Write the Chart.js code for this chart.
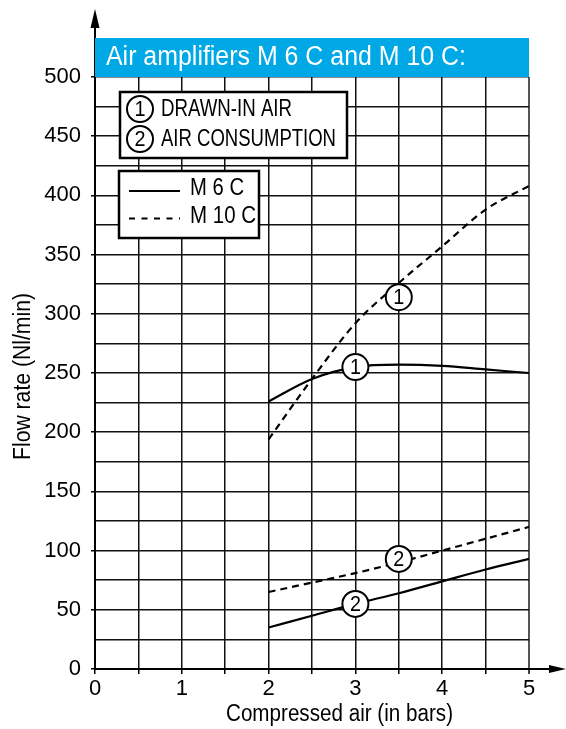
<!DOCTYPE html>
<html>
<head>
<meta charset="utf-8">
<script src="https://cdn.jsdelivr.net/npm/chart.js@4.4.1/dist/chart.umd.min.js"></script>
<style>
html,body{margin:0;padding:0;background:#fff;}
canvas{display:block;}
</style>
</head>
<body>
<canvas id="c" width="566" height="729" style="width:566px;height:729px"></canvas>
<script>
// ---------- data ----------
const pressureBar = [2, 2.5, 3, 3.5, 4, 4.5, 5];
const m6DrawnIn = [226, 245, 255, 257, 256, 253, 250];
const m10DrawnIn = [194, 245, 292, 326, 357, 388, 408];
const m6Consumption = [35, 45, 55, 64, 74, 84, 93];
const m10Consumption = [65, 73, 81, 90, 100, 110, 120];
const markerX = [3, 3.5, 3, 3.5];
const markerY = [255, 314, 55, 93];
const markerText = ['1', '1', '2', '2'];
const xTickLabels = ['0', '1', '2', '3', '4', '5'];
const yTickLabels = ['0', '50', '100', '150', '200', '250', '300', '350', '400', '450', '500'];
const chartTitle = 'Air amplifiers M 6 C and M 10 C:';
const xTitle = 'Compressed air (in bars)';
const yTitle = 'Flow rate (Nl/min)';
const curveKeys = ['DRAWN-IN AIR', 'AIR CONSUMPTION'];
const curveKeyNums = ['1', '2'];
const modelNames = ['M 6 C', 'M 10 C'];

const FONT = "'Liberation Sans Narrow','Arial Narrow','Liberation Sans',Arial,sans-serif";
const FONT2 = "'Liberation Sans',Arial,sans-serif";

const pts = (xs, ys) => xs.map((x, i) => ({ x: x, y: ys[i] }));
const DASH = [7, 5];

function lineDs(label, ys, dashed) {
  return {
    label: label,
    data: pts(pressureBar, ys),
    borderColor: '#000',
    borderWidth: 2.2,
    borderDash: dashed ? DASH : [],
    pointRadius: 0,
    fill: false,
    cubicInterpolationMode: 'monotone',
    order: 1
  };
}

// draw text horizontally scaled to a target width
function fitText(ctx, text, x, y, size, targetW, align, color, rot) {
  ctx.save();
  ctx.font = size + 'px ' + FONT2;
  const w = ctx.measureText(text).width;
  const sx = targetW / w;
  ctx.translate(x, y);
  if (rot) ctx.rotate(rot);
  ctx.scale(sx, 1);
  ctx.fillStyle = color;
  ctx.textBaseline = 'middle';
  ctx.textAlign = align;
  ctx.fillText(text, 0, 0);
  ctx.restore();
}

const deco = {
  id: 'deco',
  afterDatasetsDraw(chart) {
    const ctx = chart.ctx;
    const meta = chart.getDatasetMeta(0);
    ctx.save();
    meta.data.forEach((el, i) => {
      fitText(ctx, markerText[i], el.x, el.y + 1, 22, 11, 'center', '#000');
    });
    ctx.restore();
  },
  afterDraw(chart) {
    const ctx = chart.ctx;
    const a = chart.chartArea;
    ctx.save();
    // axis extensions + arrows
    ctx.strokeStyle = '#000';
    ctx.lineWidth = 2;
    ctx.beginPath();
    ctx.moveTo(a.left, a.top);
    ctx.lineTo(a.left, 24);
    ctx.stroke();
    ctx.fillStyle = '#000';
    ctx.beginPath();
    ctx.moveTo(a.left, 9);
    ctx.lineTo(a.left - 4.5, 28);
    ctx.lineTo(a.left + 4.5, 28);
    ctx.closePath();
    ctx.fill();
    ctx.beginPath();
    ctx.moveTo(a.right, a.bottom);
    ctx.lineTo(552, a.bottom);
    ctx.stroke();
    ctx.beginPath();
    ctx.moveTo(566, a.bottom);
    ctx.lineTo(549, a.bottom - 4);
    ctx.lineTo(549, a.bottom + 4);
    ctx.closePath();
    ctx.fill();

    // banner
    ctx.fillStyle = '#00A8E6';
    ctx.fillRect(a.left, 38, a.right - a.left, a.top - 38);
    fitText(ctx, chartTitle, 106, 58, 27, 360, 'left', '#fff');

    // legend box 1 (curve numbers)
    ctx.fillStyle = '#fff';
    ctx.fillRect(120, 92, 227, 66);
    ctx.strokeStyle = '#000';
    ctx.lineWidth = 2.5;
    ctx.strokeRect(120, 92, 227, 66);
    const ky = [109, 139];
    const kw = [131, 175];
    for (let i = 0; i < 2; i++) {
      ctx.beginPath();
      ctx.arc(140, ky[i], 13, 0, Math.PI * 2);
      ctx.fillStyle = '#fff';
      ctx.fill();
      ctx.lineWidth = 2;
      ctx.stroke();
      fitText(ctx, curveKeyNums[i], 140, ky[i] + 1, 22, 11, 'center', '#000');
      fitText(ctx, curveKeys[i], 161, ky[i] + 1, 23, kw[i], 'left', '#000');
    }

    // legend box 2 (models)
    ctx.fillStyle = '#fff';
    ctx.fillRect(119, 171, 140, 67);
    ctx.lineWidth = 2.5;
    ctx.strokeRect(119, 171, 140, 67);
    ctx.lineWidth = 2.2;
    ctx.beginPath();
    ctx.moveTo(129, 191);
    ctx.lineTo(180, 191);
    ctx.stroke();
    ctx.setLineDash([6, 6.5]);
    ctx.beginPath();
    ctx.moveTo(129, 218.5);
    ctx.lineTo(180, 218.5);
    ctx.stroke();
    ctx.setLineDash([]);
    fitText(ctx, modelNames[0], 190, 189, 23, 54, 'left', '#000');
    fitText(ctx, modelNames[1], 190, 217, 23, 66, 'left', '#000');

    // axis titles
    fitText(ctx, xTitle, 339.5, 715, 23, 227, 'center', '#000');
    fitText(ctx, yTitle, 24, 376.5, 23, 167, 'center', '#000', -Math.PI / 2);
    ctx.restore();
  }
};

new Chart(document.getElementById('c'), {
  type: 'line',
  data: {
    datasets: [
      {
        label: 'markers',
        data: pts(markerX, markerY),
        showLine: false,
        pointRadius: 13,
        pointHoverRadius: 13,
        pointBackgroundColor: '#fff',
        pointBorderColor: '#000',
        pointBorderWidth: 2,
        order: 0
      },
      lineDs('M 6 C drawn-in air', m6DrawnIn, false),
      lineDs('M 10 C drawn-in air', m10DrawnIn, true),
      lineDs('M 6 C air consumption', m6Consumption, false),
      lineDs('M 10 C air consumption', m10Consumption, true)
    ]
  },
  options: {
    responsive: false,
    animation: false,
    events: [],
    layout: { padding: { left: 0, top: 77, right: 37, bottom: 0 } },
    plugins: { legend: { display: false }, tooltip: { enabled: false }, title: { display: false } },
    scales: {
      x: {
        type: 'linear',
        min: 0,
        max: 5,
        afterFit: s => { s.height = 60; },
        ticks: {
          stepSize: 0.5,
          autoSkip: false,
          maxRotation: 0,
          padding: 2,
          color: '#000',
          font: { family: FONT, size: 22 },
          callback: v => Number.isInteger(v) ? xTickLabels[v] : ''
        },
        grid: {
          color: c => (c.tick && c.tick.value === 5) ? '#555' : '#111',
          lineWidth: c => (c.tick && c.tick.value === 5) ? 2 : 1.5,
          tickLength: 5,
          tickColor: '#000',
          tickWidth: 1.5
        },
        border: { display: true, color: '#000', width: 2 }
      },
      y: {
        min: 0,
        max: 500,
        afterFit: s => { s.width = 95; },
        ticks: {
          stepSize: 25,
          autoSkip: false,
          padding: 10,
          color: '#000',
          font: { family: FONT, size: 22 },
          callback: v => (v % 50 === 0) ? yTickLabels[v / 50] : ''
        },
        grid: {
          color: '#111',
          lineWidth: 1.5,
          tickLength: 4,
          tickColor: c => (c.tick && c.tick.value % 50 === 0) ? '#000' : 'rgba(0,0,0,0)',
          tickWidth: 1.5
        },
        border: { display: true, color: '#000', width: 2 }
      }
    }
  },
  plugins: [deco]
});
</script>
</body>
</html>
